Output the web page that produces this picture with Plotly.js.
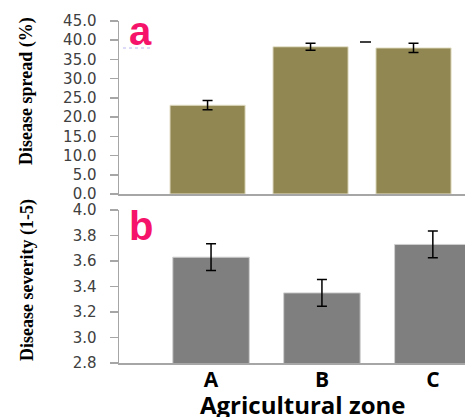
<!DOCTYPE html>
<html><head><meta charset="utf-8">
<script src="https://cdn.plot.ly/plotly-3.0.1.min.js"></script>
<style>html,body{margin:0;padding:0;background:#fff}</style>
</head><body><div id="chart" style="width:465px;height:417px"></div>
<script>
const zones = ['A', 'B', 'C'];
const spreadValues = [23.1, 38.3, 38.0];
const spreadErrors = [1.2, 0.9, 1.2];
const severityValues = [3.63, 3.35, 3.73];
const severityErrors = [0.105, 0.105, 0.105];
const spreadTicks = [0, 5, 10, 15, 20, 25, 30, 35, 40, 45];
const severityTicks = [2.8, 3.0, 3.2, 3.4, 3.6, 3.8, 4.0];

const W = 465, H = 417;
const px = x => x / W;
const py = y => 1 - y / H;

const tickFont = {family: 'DejaVu Sans', size: 15, color: '#404040'};

const traces = [
  {type: 'bar', x: zones, y: spreadValues, xaxis: 'x', yaxis: 'y',
   marker: {color: '#918752', line: {color: '#e6e2cc', width: 1}}, width: 0.73,
   error_y: {type: 'data', array: spreadErrors, visible: true, color: '#000', thickness: 1.5, width: 5},
   hoverinfo: 'none'},
  {type: 'bar', x: zones, y: severityValues, xaxis: 'x2', yaxis: 'y2',
   marker: {color: '#7f7f7f', line: {color: '#d0d0d0', width: 1}}, width: 0.69,
   error_y: {type: 'data', array: severityErrors, visible: true, color: '#000', thickness: 1.5, width: 5},
   hoverinfo: 'none'}
];

const layout = {
  width: W, height: H,
  margin: {l: 0, r: 0, t: 0, b: 0},
  paper_bgcolor: '#fff', plot_bgcolor: '#fff',
  showlegend: false,
  xaxis: {domain: [px(119), 1], anchor: 'y', range: [-0.86, 2.5], showticklabels: false,
          ticks: '', showline: true, linecolor: '#a6a6a6', linewidth: 1.5, showgrid: false, zeroline: false},
  yaxis: {domain: [py(194), py(21)], anchor: 'x', range: [0, 45], tickvals: spreadTicks,
          ticktext: spreadTicks.map(v => v.toFixed(1)), ticks: 'outside', ticklen: 8, tickwidth: 1.5,
          tickcolor: '#a6a6a6', showline: true, linecolor: '#a6a6a6', linewidth: 1.5,
          showgrid: false, zeroline: false, tickfont: tickFont, ticklabelstandoff: 10},
  xaxis2: {domain: [px(119), 1], anchor: 'y2', range: [-0.83, 2.29], ticks: '',
           showline: true, linecolor: '#a6a6a6', linewidth: 1.5, showgrid: false, zeroline: false,
           tickfont: {family: 'Open Sans', size: 21, color: '#000', weight: 'bold'}, ticklabelstandoff: -3},
  yaxis2: {domain: [py(363), py(210)], anchor: 'x2', range: [2.8, 4.0], tickvals: severityTicks,
           ticktext: severityTicks.map(v => v.toFixed(1)), ticks: 'outside', ticklen: 8, tickwidth: 1.5,
           tickcolor: '#a6a6a6', showline: true, linecolor: '#a6a6a6', linewidth: 1.5,
           showgrid: false, zeroline: false, tickfont: tickFont, ticklabelstandoff: 10},
  annotations: [
    {text: 'Disease spread (%)', xref: 'paper', yref: 'paper', x: px(27), y: py(91),
     textangle: -90, showarrow: false, xanchor: 'center', yanchor: 'middle',
     font: {family: 'Liberation Serif', size: 18, color: '#000', weight: 'bold'}},
    {text: 'Disease severity (1-5)', xref: 'paper', yref: 'paper', x: px(27), y: py(280),
     textangle: -90, showarrow: false, xanchor: 'center', yanchor: 'middle',
     font: {family: 'Liberation Serif', size: 18, color: '#000', weight: 'bold'}},
    {text: 'a', xref: 'paper', yref: 'paper', x: px(140), y: py(31),
     showarrow: false, xanchor: 'center', yanchor: 'middle',
     font: {family: 'Liberation Sans', size: 40, color: '#f5146a', weight: 'bold'}},
    {text: 'b', xref: 'paper', yref: 'paper', x: px(141), y: py(226),
     showarrow: false, xanchor: 'center', yanchor: 'middle',
     font: {family: 'Liberation Sans', size: 40, color: '#f5146a', weight: 'bold'}},
    {text: 'Agricultural zone', xref: 'paper', yref: 'paper', x: px(302), y: py(404),
     showarrow: false, xanchor: 'center', yanchor: 'middle',
     font: {family: 'Open Sans', size: 24, color: '#000', weight: 'bold'}}
  ],
  shapes: [
    {type: 'line', xref: 'paper', yref: 'paper', x0: px(123), x1: px(153), y0: py(48), y1: py(48),
     line: {color: '#b8b8f0', width: 1, dash: 'dot'}},
    {type: 'line', xref: 'paper', yref: 'paper', x0: px(360), x1: px(371), y0: py(42), y1: py(42),
     line: {color: '#000', width: 1.5}}
  ]
};

Plotly.newPlot('chart', traces, layout, {staticPlot: true});
</script></body></html>
